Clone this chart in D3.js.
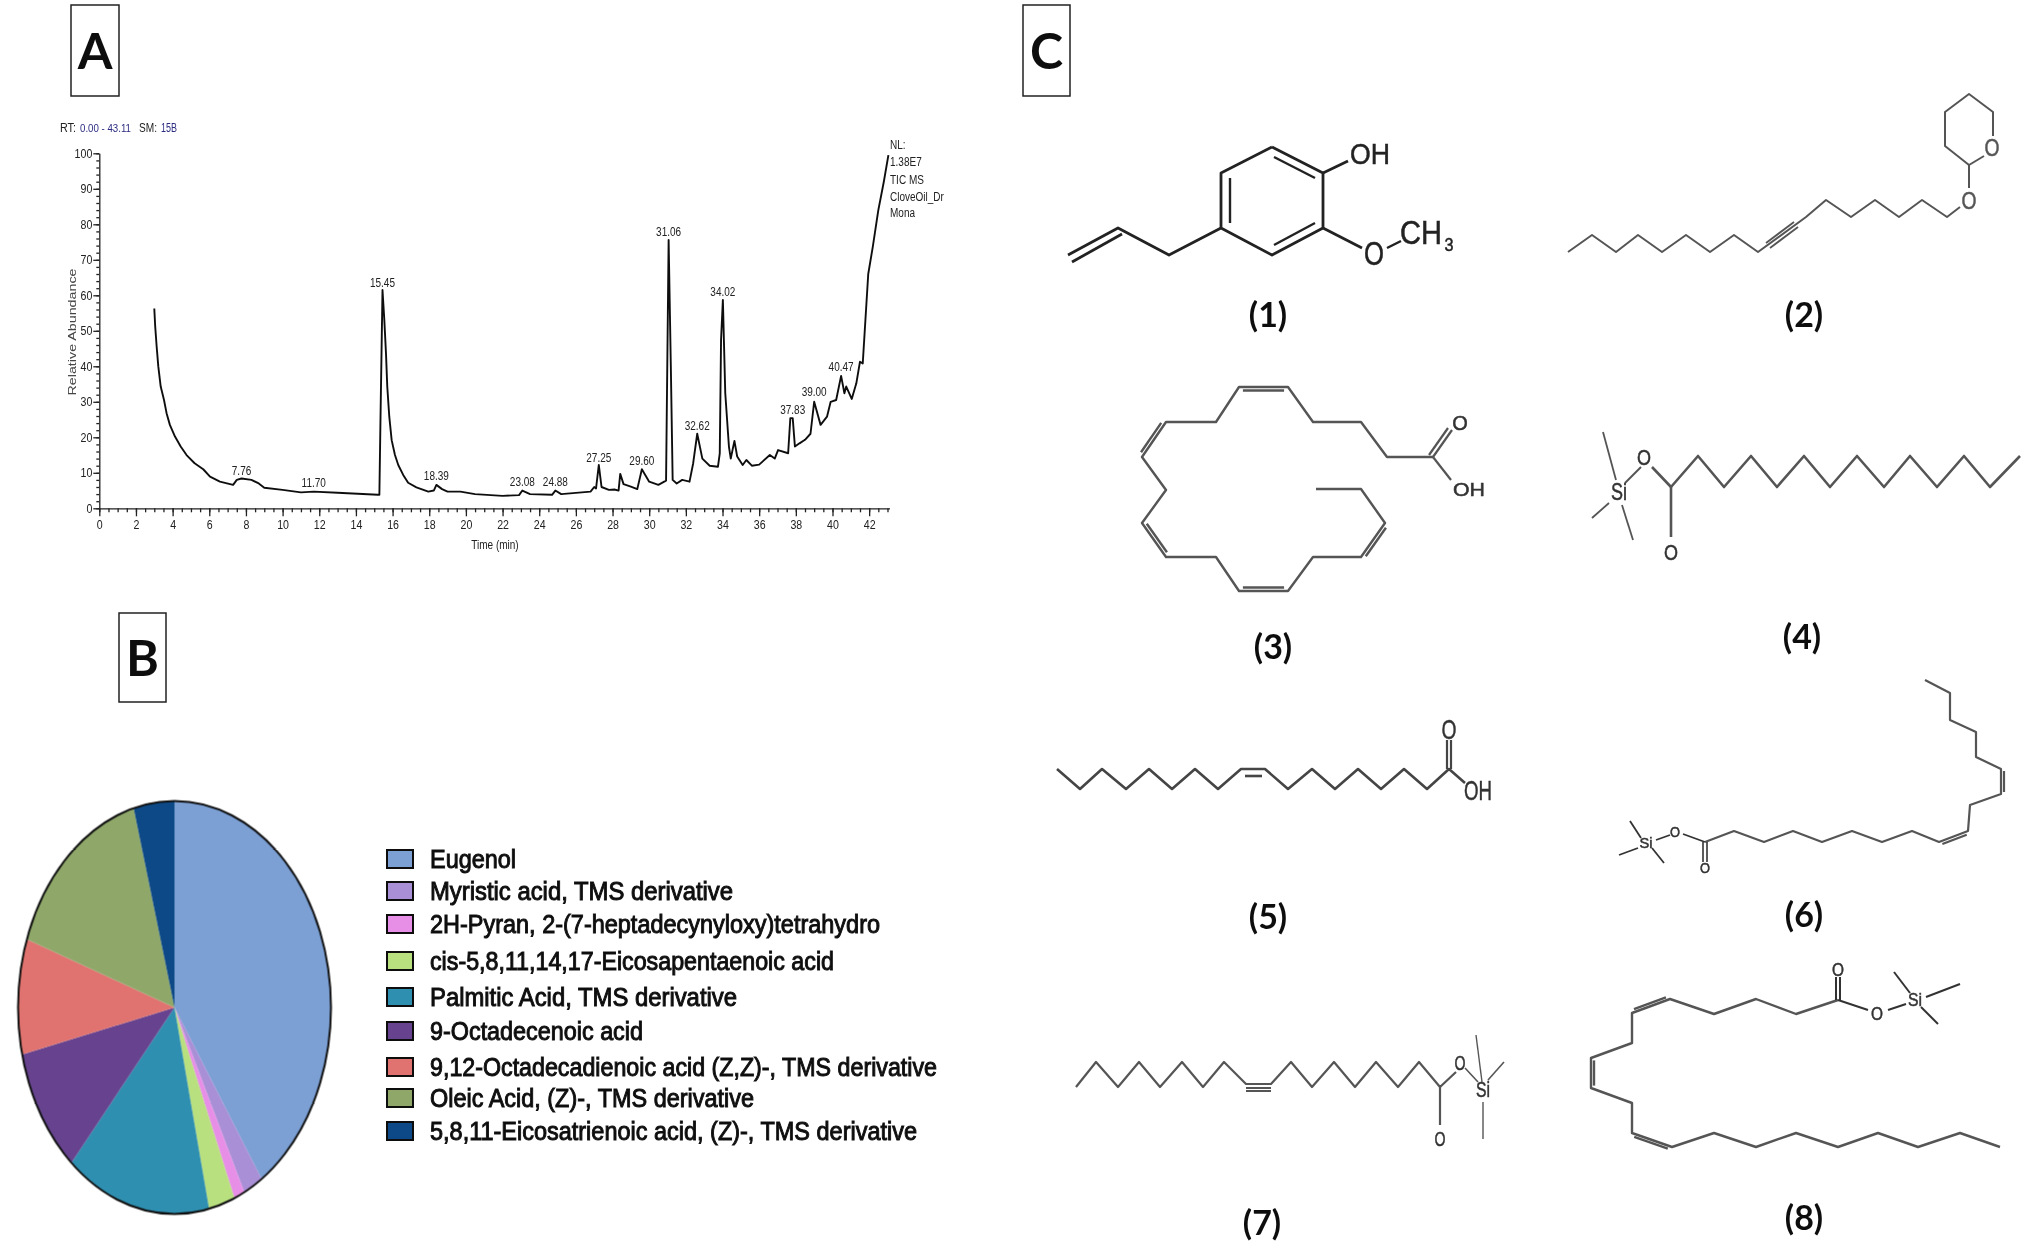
<!DOCTYPE html>
<html>
<head>
<meta charset="utf-8">
<title>Clove oil GC-MS</title>
<script src="https://cdn.jsdelivr.net/npm/d3@7"></script>
<style>
body { margin: 0; background: #fff; }
text { font-family: "Liberation Sans", sans-serif; }
.big { font-family: Lato, "Open Sans", sans-serif; font-weight: 700; fill: #111; }
.axis path, .axis line { stroke: #222; stroke-width: 1.3; }
.axis text { font-size: 12.5px; fill: #222; }
</style>
</head>
<body>
<svg id="svg" width="2034" height="1248"></svg>
<script>
// chromatogram (panel A)
var rtMinutes = [3.0, 3.05, 3.13, 3.22, 3.35, 3.53, 3.67, 3.85, 4.13, 4.44, 4.76, 5.2, 5.67, 6.04, 6.58, 7.3, 7.5, 7.76, 8.3, 8.7, 9.0, 10.0, 11.0, 11.7, 13.0, 15.2, 15.28, 15.34, 15.45, 15.55, 15.64, 15.71, 15.82, 15.95, 16.13, 16.31, 16.58, 16.85, 17.3, 17.95, 18.25, 18.39, 18.7, 19.0, 19.7, 20.5, 22.0, 22.9, 23.08, 23.5, 24.7, 24.88, 25.2, 26.8, 27.0, 27.1, 27.25, 27.4, 27.8, 28.1, 28.33, 28.42, 28.6, 29.0, 29.35, 29.6, 30.0, 30.5, 30.92, 31.06, 31.18, 31.28, 31.5, 31.8, 32.2, 32.4, 32.62, 32.9, 33.3, 33.75, 33.85, 33.92, 34.02, 34.15, 34.35, 34.45, 34.65, 34.8, 35.1, 35.3, 35.6, 36.0, 36.58, 36.85, 37.03, 37.58, 37.7, 37.83, 37.95, 38.2, 38.5, 38.8, 39.0, 39.35, 39.7, 39.9, 40.2, 40.47, 40.65, 40.75, 41.05, 41.3, 41.5, 41.65, 41.95, 42.2, 42.5, 42.8, 43.05];
var abundance = [56.3, 51.2, 45.5, 39.9, 34.3, 30.5, 26.8, 23.5, 20.2, 17.4, 15, 12.7, 11, 8.9, 7.5, 6.6, 8, 8.4, 8, 7, 5.8, 5.2, 4.5, 4.7, 4.4, 3.8, 3.8, 25, 61.5, 53, 43.7, 34.3, 25.8, 19.2, 15, 12.2, 9.4, 7.2, 5.9, 4.7, 5, 6.6, 5.4, 4.7, 4.7, 4, 3.5, 3.7, 5, 4, 3.8, 5, 4, 4.7, 6, 5.6, 12.2, 6, 5.2, 5.3, 5, 9.7, 6.8, 6.1, 5.4, 11, 7.5, 6.6, 7.8, 75.6, 40, 8, 7, 8, 7.5, 12.7, 21, 14, 12, 11.7, 15.5, 47.4, 58.7, 32.4, 17.4, 14, 19, 14.6, 12.2, 13.6, 12, 12.3, 15, 14, 16.4, 15.5, 25.4, 25.4, 17.4, 18.3, 19.3, 21, 30, 23.5, 25.8, 30, 30.5, 37.3, 32.4, 34.3, 30.8, 35.2, 41.3, 40.8, 66, 73.7, 84, 92, 99.5];
var peakTimes = [7.76, 11.70, 15.45, 18.39, 23.08, 24.88, 27.25, 29.60, 31.06, 32.62, 34.02, 37.83, 39.00, 40.47];
var peakLabels = ["7.76", "11.70", "15.45", "18.39", "23.08", "24.88", "27.25", "29.60", "31.06", "32.62", "34.02", "37.83", "39.00", "40.47"];
var peakLabelLevel = [9.5, 5.9, 62.3, 8, 6.4, 6.4, 13, 12.2, 76.6, 22.1, 59.9, 26.6, 31.5, 38.6];
var sideNotes = ["NL:", "1.38E7", "TIC  MS", "CloveOil_Dr", "Mona"];

// composition (panel B)
var compounds = ["Eugenol", "Myristic acid, TMS derivative", "2H-Pyran, 2-(7-heptadecynyloxy)tetrahydro", "cis-5,8,11,14,17-Eicosapentaenoic acid", "Palmitic Acid, TMS derivative", "9-Octadecenoic acid", "9,12-Octadecadienoic acid (Z,Z)-, TMS derivative", "Oleic Acid, (Z)-, TMS derivative", "5,8,11-Eicosatrienoic acid, (Z)-, TMS derivative"];
var percents = [40.6, 2.05, 1.1, 2.7, 15.0, 9.9, 9.0, 15.45, 4.2];
var compoundColors = ["#7b9fd4", "#a98fd6", "#e78fe6", "#b9e07f", "#2f8fb0", "#66438f", "#e0736f", "#8fa86a", "#0f4a87"];
var legendRows = [859, 891, 924, 961, 997, 1031, 1067, 1098, 1131];
var legendEnds = [516, 733, 880, 834, 737, 643, 937, 754, 917];

var svg = d3.select("#svg");
var defs = svg.append("defs");
defs.append("filter").attr("id", "soft")
    .attr("x", 0).attr("y", 0).attr("width", 1).attr("height", 1)
    .attr("filterUnits", "objectBoundingBox")
    .append("feGaussianBlur").attr("stdDeviation", 0.75);

svg.append("rect").attr("width", 2034).attr("height", 1248).attr("fill", "#fff");
var root = svg.append("g").attr("filter", "url(#soft)");
root.append("rect").attr("width", 2034).attr("height", 1248).attr("fill", "#fff");

// squeeze text horizontally, the source image is stretched
function squeeze(sel, k) {
    sel.each(function () {
        d3.select(this)
            .attr("textLength", this.getComputedTextLength() * k)
            .attr("lengthAdjust", "spacingAndGlyphs");
    });
}

// panel letters
[["A", 71, 5, 48, 91], ["B", 119, 613, 47, 89], ["C", 1023, 5, 47, 91]].forEach(function (p) {
    root.append("rect").attr("x", p[1]).attr("y", p[2]).attr("width", p[3]).attr("height", p[4])
        .attr("fill", "#fff").attr("stroke", "#222").attr("stroke-width", 1.5);
    root.append("text").attr("class", "big")
        .attr("x", p[1] + p[3] / 2).attr("y", p[2] + p[4] / 2 + 18)
        .attr("text-anchor", "middle").attr("font-size", 50).text(p[0]);
});

// ---------- A ----------
var xScale = d3.scaleLinear().domain([0, 43.11]).range([99.3, 889.5]);
var yScale = d3.scaleLinear().domain([0, 100]).range([508.3, 153.3]);

var xMinor = d3.range(0, 43.01, 0.5);
var yMinor = d3.range(0, 100.1, 2);

root.append("g").attr("class", "axis").attr("transform", "translate(0,508.3)")
    .call(d3.axisBottom(xScale).tickValues(xMinor).tickSize(4).tickFormat(""))
    .select(".domain").remove();
var xAxisG = root.append("g").attr("class", "axis").attr("transform", "translate(0,508.3)")
    .call(d3.axisBottom(xScale).tickValues(d3.range(0, 43, 2)).tickSize(8).tickSizeOuter(0).tickPadding(4).tickFormat(d3.format("d")));
root.append("g").attr("class", "axis").attr("transform", "translate(99.3,0)")
    .call(d3.axisLeft(yScale).tickValues(yMinor).tickSize(3).tickFormat(""))
    .select(".domain").remove();
var yAxisG = root.append("g").attr("class", "axis").attr("transform", "translate(99.3,0)")
    .call(d3.axisLeft(yScale).tickValues(d3.range(0, 101, 10)).tickSize(6).tickSizeOuter(0).tickPadding(1).tickFormat(d3.format("d")));
squeeze(xAxisG.selectAll("text"), 0.85);
squeeze(yAxisG.selectAll("text"), 0.85);

var trace = d3.line()
    .x(function (d) { return xScale(d[0]); })
    .y(function (d) { return yScale(d[1]); });

root.append("path")
    .attr("d", trace(d3.zip(rtMinutes, abundance)))
    .attr("fill", "none").attr("stroke", "#111").attr("stroke-width", 1.9).attr("stroke-linejoin", "round");

var peakText = root.append("g").selectAll("text")
    .data(peakLabels)
    .enter().append("text")
    .attr("x", function (d, i) { return xScale(peakTimes[i]); })
    .attr("y", function (d, i) { return yScale(peakLabelLevel[i]); })
    .attr("text-anchor", "middle")
    .attr("font-size", 12.5)
    .attr("fill", "#222")
    .text(function (d) { return d; });
squeeze(peakText, 0.8);

// header, four separate pieces
[["RT:", 60, 16, "#222", 12], ["0.00 - 43.11", 80, 51, "#2b2b80", 10.8], ["SM:", 139, 18, "#222", 12], ["15B", 161, 16, "#2b2b80", 12]].forEach(function (h) {
    root.append("text").attr("x", h[1]).attr("y", 132).attr("font-size", h[4]).attr("fill", h[3])
        .attr("textLength", h[2]).attr("lengthAdjust", "spacingAndGlyphs").text(h[0]);
});

root.append("text").attr("transform", "translate(76,332) rotate(-90)")
    .attr("text-anchor", "middle").attr("font-size", 11.5).attr("fill", "#444")
    .attr("textLength", 127).attr("lengthAdjust", "spacingAndGlyphs")
    .text("Relative Abundance");
var timeLabel = root.append("text").attr("x", 495).attr("y", 549).attr("text-anchor", "middle").attr("font-size", 12.5)
    .attr("fill", "#222")
    .text("Time (min)");
squeeze(timeLabel, 0.8);

var noteText = root.append("g").selectAll("text")
    .data(sideNotes)
    .enter().append("text")
    .attr("x", 890)
    .attr("y", function (d, i) { return [149, 166, 184, 201, 217][i]; })
    .attr("font-size", 12.5)
    .attr("fill", "#222")
    .text(function (d) { return d; });
squeeze(noteText, 0.8);

// ---------- B ----------
var pieGen = d3.pie().sort(null).value(function (d) { return d; });
var arcGen = d3.arc().innerRadius(0).outerRadius(1);
var pieG = root.append("g").attr("transform", "translate(174.5,1007.5) scale(156.5,206.5)");

pieG.selectAll("path")
    .data(pieGen(percents))
    .enter().append("path")
    .attr("d", arcGen)
    .attr("fill", function (d, i) { return compoundColors[i]; });
pieG.append("circle").attr("r", 1).attr("fill", "none")
    .attr("stroke", "#111").attr("stroke-width", 2).attr("vector-effect", "non-scaling-stroke");

var legend = root.append("g").selectAll("g")
    .data(compounds)
    .enter().append("g")
    .attr("transform", function (d, i) { return "translate(0," + legendRows[i] + ")"; });
legend.append("rect")
    .attr("x", 387).attr("y", -9).attr("width", 26).attr("height", 18)
    .attr("fill", function (d, i) { return compoundColors[i]; })
    .attr("stroke", "#111").attr("stroke-width", 2);
legend.append("text")
    .attr("x", 430).attr("y", 8.5)
    .attr("font-size", 26).attr("fill", "#111").attr("stroke", "#111").attr("stroke-width", 1)
    .attr("textLength", function (d, i) { return legendEnds[i] - 430; })
    .attr("lengthAdjust", "spacingAndGlyphs")
    .text(function (d) { return d; });

// ---------- C ----------
var bond = d3.line();
var molDark = "#222", molGray = "#555";

function chain(pts, w, col) {
    root.append("path").attr("d", bond(pts)).attr("fill", "none")
        .attr("stroke", col).attr("stroke-width", w).attr("stroke-linejoin", "round");
}
function second(a, off, w, col) {
    // parallel line next to the segment a[0]-a[1]
    var dx = a[1][0] - a[0][0], dy = a[1][1] - a[0][1], l = Math.hypot(dx, dy);
    var nx = -dy / l * off, ny = dx / l * off, t = 0.08;
    chain([[a[0][0] + dx * t + nx, a[0][1] + dy * t + ny], [a[1][0] - dx * t + nx, a[1][1] - dy * t + ny]], w, col);
}
function atom(s, x, y, size, len, col) {
    var t = root.append("text").attr("x", x).attr("y", y + size * 0.36).attr("text-anchor", "middle")
        .attr("font-size", size).attr("fill", col || "#222")
        .attr("stroke", col || "#222").attr("stroke-width", 0.5).text(s);
    if (len) t.attr("textLength", len).attr("lengthAdjust", "spacingAndGlyphs");
}
function caption(s, x, y) {
    root.append("text").attr("class", "big").attr("x", x).attr("y", y + 12)
        .attr("text-anchor", "middle").attr("font-size", 34).text(s);
}

// (1) eugenol
chain([[1272,147],[1323,173],[1323,228],[1272,255],[1221,228],[1221,173],[1272,147]], 2.8, molDark);
chain([[1274,157],[1315,178]], 2.4, molDark);
chain([[1315,223],[1274,245]], 2.4, molDark);
chain([[1230,178],[1230,223]], 2.4, molDark);
chain([[1323,173],[1348,161]], 2.8, molDark);
chain([[1323,228],[1362,248]], 2.8, molDark);
chain([[1387,248],[1401,241]], 2.4, molDark);
chain([[1221,228],[1169,255],[1118,228],[1068,255]], 2.8, molDark);
chain([[1122,234],[1072,262]], 2.8, molDark);
atom("OH", 1370, 153, 30, 40);
atom("O", 1374, 253, 34, 20);
atom("CH", 1421, 232, 33, 42);
atom("3", 1449, 245, 18, 9);
caption("(1)", 1268, 315);

// (2)
chain([[1568,252],[1592,235],[1616,252],[1638,235],[1662,252],[1686,235],[1710,252],[1734,235],[1758,252],[1806,217],[1826,200],[1851,217],[1875,200],[1899,217],[1922,200],[1947,217],[1960,207]], 2, molGray);
chain([[1766,243],[1794,222]], 1.8, molGray);
chain([[1770,248],[1798,227]], 1.8, molGray);
chain([[1969,188],[1969,165],[1945,146],[1945,112],[1969,94],[1993,112],[1993,136]], 2, molGray);
chain([[1984,156],[1969,165]], 2, molGray);
atom("O", 1969, 200, 24, 15, molGray);
atom("O", 1992, 147, 24, 15, molGray);
caption("(2)", 1804, 315);

// (3)
var m3 = [[1433,457],[1387,457],[1361,422],[1313,422],[1288,387],[1239,387],[1216,422],[1166,422],[1142,457],[1166,490],[1142,523],[1166,557],[1216,557],[1239,591],[1288,591],[1313,557],[1361,557],[1385,523],[1361,489],[1316,489]];
chain(m3, 2.4, molGray);
[[4, -3.5], [7, 3.5], [10, -3.5], [13, -3.5], [16, 3.5]].forEach(function (d) {
    second([m3[d[0]], m3[d[0] + 1]], d[1], 2.4, molGray);
});
chain([[1433,457],[1452,430]], 2.2, molGray);
chain([[1429,455],[1448,428]], 2.2, molGray);
chain([[1433,457],[1451,480]], 2.2, molGray);
atom("O", 1460, 423, 20, 0, "#333");
atom("OH", 1469, 490, 18, 32, "#333");
caption("(3)", 1273, 647);

// (4)
chain([[1652,467],[1671,487],[1698,456],[1724,487],[1751,456],[1777,487],[1804,456],[1830,487],[1857,456],[1884,487],[1910,456],[1937,487],[1964,456],[1990,487],[2020,456]], 2.6, molGray);
chain([[1671,487],[1671,537]], 2.6, molGray);
chain([[1641,467],[1625,483]], 2, molGray);
chain([[1603,432],[1616,480]], 1.8, molGray);
chain([[1609,503],[1592,518]], 1.8, molGray);
chain([[1622,505],[1633,540]], 1.8, molGray);
atom("O", 1644, 457, 22, 14, "#333");
atom("O", 1671, 552, 22, 14, "#333");
atom("Si", 1619, 491, 24, 16, "#333");
caption("(4)", 1802, 637);

// (5)
chain([[1057,769],[1080,789],[1102,769],[1126,789],[1149,769],[1172,789],[1195,769],[1218,789],[1241,769],[1265,769],[1288,789],[1312,769],[1335,789],[1358,769],[1381,789],[1404,769],[1427,789],[1449,769],[1465,783]], 2.6, "#444");
chain([[1245,776],[1262,776]], 2.6, "#444");
chain([[1447,769],[1447,740]], 2.2, "#444");
chain([[1451,769],[1451,740]], 2.2, "#444");
atom("O", 1449, 729, 28, 15, "#333");
atom("OH", 1478, 790, 28, 28, "#333");
caption("(5)", 1268, 917);

// (6)
var m6 = [[1705,842],[1734,831],[1764,842],[1793,831],[1822,842],[1852,831],[1882,842],[1912,831],[1939,842],[1968,831],[1970,805],[2001,794],[2001,769],[1976,757],[1976,732],[1950,720],[1950,693],[1925,680]];
chain(m6, 2.2, molGray);
second([m6[8], m6[9]], 3, 2.2, molGray);
second([m6[11], m6[12]], 3, 2.2, molGray);
chain([[1683,834],[1705,842]], 1.8, "#333");
chain([[1703,842],[1703,862]], 1.6, "#333");
chain([[1707,842],[1707,862]], 1.6, "#333");
chain([[1656,840],[1670,835]], 1.8, "#333");
chain([[1630,821],[1641,838]], 1.8, "#333");
chain([[1619,855],[1638,848]], 1.8, "#333");
chain([[1664,863],[1652,848]], 1.8, "#333");
atom("O", 1675, 832, 14, 10, "#333");
atom("O", 1705, 868, 14, 10, "#333");
atom("Si", 1646, 843, 14, 13, "#333");
caption("(6)", 1804, 915);

// (7)
chain([[1076,1087],[1096,1062],[1118,1087],[1139,1062],[1160,1087],[1182,1062],[1203,1087],[1224,1062],[1246,1084],[1271,1084],[1291,1062],[1312,1087],[1334,1062],[1355,1087],[1376,1062],[1398,1087],[1419,1062],[1440,1087],[1456,1072]], 2.2, molGray);
chain([[1246,1088],[1271,1088]], 2, molGray);
chain([[1246,1091],[1271,1091]], 2, molGray);
chain([[1440,1087],[1440,1125]], 2.2, molGray);
chain([[1476,1035],[1482,1082]], 1.4, molGray);
chain([[1465,1068],[1478,1082]], 1.6, molGray);
chain([[1504,1062],[1488,1080]], 1.6, molGray);
chain([[1483,1102],[1483,1139]], 1.4, molGray);
atom("O", 1460, 1063, 20, 11, "#333");
atom("O", 1440, 1139, 20, 11, "#333");
atom("Si", 1483, 1089, 22, 14, "#333");
caption("(7)", 1262, 1223);

// (8)
var m8 = [[1838,1000],[1796,1014],[1756,999],[1714,1014],[1670,999],[1632,1013],[1632,1043],[1591,1058],[1591,1088],[1632,1103],[1632,1133],[1672,1147],[1714,1133],[1756,1147],[1796,1133],[1838,1147],[1878,1133],[1918,1147],[1960,1133],[2000,1147]];
chain(m8, 2.4, molGray);
second([m8[4], m8[5]], 3, 2.4, molGray);
second([m8[7], m8[8]], -3, 2.4, molGray);
second([m8[10], m8[11]], 3, 2.4, molGray);
chain([[1836,1000],[1836,977]], 2, "#333");
chain([[1840,1000],[1840,977]], 2, "#333");
chain([[1838,1000],[1868,1010]], 2, "#333");
chain([[1888,1010],[1906,1004]], 2, "#333");
chain([[1894,972],[1910,993]], 2, "#333");
chain([[1960,984],[1926,997]], 2, "#333");
chain([[1938,1024],[1921,1007]], 2, "#333");
atom("O", 1838, 970, 18, 12, "#333");
atom("O", 1877, 1014, 18, 12, "#333");
atom("Si", 1915, 1000, 18, 14, "#333");
caption("(8)", 1804, 1218);
</script>
</body>
</html>
